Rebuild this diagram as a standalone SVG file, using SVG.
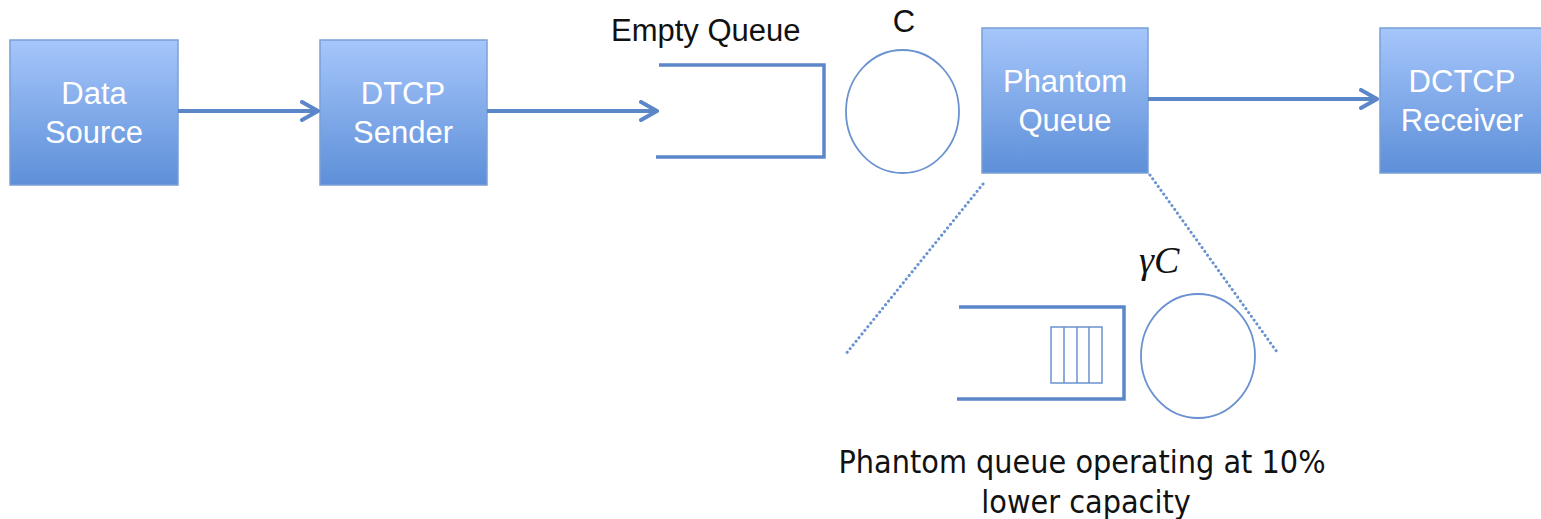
<svg xmlns="http://www.w3.org/2000/svg" width="1541" height="519" viewBox="0 0 1541 519">
  <style>
    .box { fill: url(#boxFill); stroke: #7aa0d8; stroke-width: 1.5; }
    .boxText { font-family: "Liberation Sans", Arial, sans-serif; font-size: 31px; fill: #ffffff; text-anchor: middle; }
    .label { font-family: "Liberation Sans", Arial, sans-serif; font-size: 31px; fill: #111111; }
    .link { fill: none; stroke: #5b87c9; stroke-width: 4; }
    .queue { fill: none; stroke: #5b87c9; stroke-width: 3.5; }
    .server { fill: none; stroke: #6a92d0; stroke-width: 1.8; }
    .zoom { fill: none; stroke: #6a92d0; stroke-width: 3; stroke-dasharray: 0.1 4.6; stroke-linecap: round; }
    .cell { fill: none; stroke: #6a92d0; stroke-width: 1.5; }
    .caption { font-family: "DejaVu Sans Condensed", "DejaVu Sans", sans-serif; font-size: 32px; fill: #111111; text-anchor: middle; }
  </style>
  <defs>
    <linearGradient id="boxFill" x1="0" y1="0" x2="0" y2="1">
      <stop offset="0" stop-color="#a6c6fb"/>
      <stop offset="1" stop-color="#5d8fd8"/>
    </linearGradient>
    <marker id="chevron" viewBox="0 0 20 22" refX="18" refY="11" markerWidth="20" markerHeight="22" markerUnits="userSpaceOnUse" orient="auto">
      <path d="M2,2 L18,11 L2,20" fill="none" stroke="#5b87c9" stroke-width="4" stroke-linecap="round" stroke-linejoin="round"/>
    </marker>
  </defs>

  <!-- flow nodes -->
  <g id="data-source">
    <rect class="box" x="10" y="40" width="168" height="145"/>
    <text class="boxText" x="94" y="104">Data</text>
    <text class="boxText" x="94" y="143">Source</text>
  </g>
  <g id="dtcp-sender">
    <rect class="box" x="320" y="40" width="167" height="145"/>
    <text class="boxText" x="403" y="104">DTCP</text>
    <text class="boxText" x="403" y="143">Sender</text>
  </g>
  <g id="empty-queue">
    <text class="label" x="611" y="41">Empty Queue</text>
    <path class="queue" d="M659,65 L824,65 L824,157 L656,157"/>
  </g>
  <g id="link-server">
    <text class="label" x="904" y="32" text-anchor="middle" font-size="26">C</text>
    <ellipse class="server" cx="902.5" cy="111.5" rx="56.5" ry="61.5"/>
  </g>
  <g id="phantom-queue">
    <rect class="box" x="982" y="28" width="166" height="145"/>
    <text class="boxText" x="1065" y="92">Phantom</text>
    <text class="boxText" x="1065" y="131">Queue</text>
  </g>
  <g id="dctcp-receiver">
    <rect class="box" x="1380" y="28" width="170" height="145"/>
    <text class="boxText" x="1462" y="92">DCTCP</text>
    <text class="boxText" x="1462" y="131">Receiver</text>
  </g>

  <!-- expanded view of the phantom queue -->
  <g id="phantom-detail">
    <path class="queue" d="M959,307 L1124,307 L1124,399 L957,399"/>
    <rect class="cell" x="1051" y="327" width="51" height="56"/>
    <line class="cell" x1="1064" y1="327" x2="1064" y2="383"/>
    <line class="cell" x1="1077" y1="327" x2="1077" y2="383"/>
    <line class="cell" x1="1089" y1="327" x2="1089" y2="383"/>
    <text x="1139" y="273" font-family="Liberation Serif, 'Times New Roman', serif" font-style="italic" font-size="38" fill="#111111">γC</text>
    <ellipse class="server" cx="1198" cy="356" rx="57" ry="62"/>
  </g>
  <g id="caption">
    <text class="caption" x="1082" y="473">Phantom queue operating at 10%</text>
    <text class="caption" x="1086" y="513">lower capacity</text>
  </g>

  <!-- connectors -->
  <g id="connectors">
    <line class="link" x1="178" y1="111" x2="318" y2="111" marker-end="url(#chevron)"/>
    <line class="link" x1="487" y1="111" x2="657" y2="111" marker-end="url(#chevron)"/>
    <line class="link" x1="1148" y1="99" x2="1377" y2="99" marker-end="url(#chevron)"/>
    <line class="zoom" x1="983" y1="184" x2="845" y2="355"/>
    <line class="zoom" x1="1150" y1="175" x2="1277" y2="352"/>
  </g>
</svg>
